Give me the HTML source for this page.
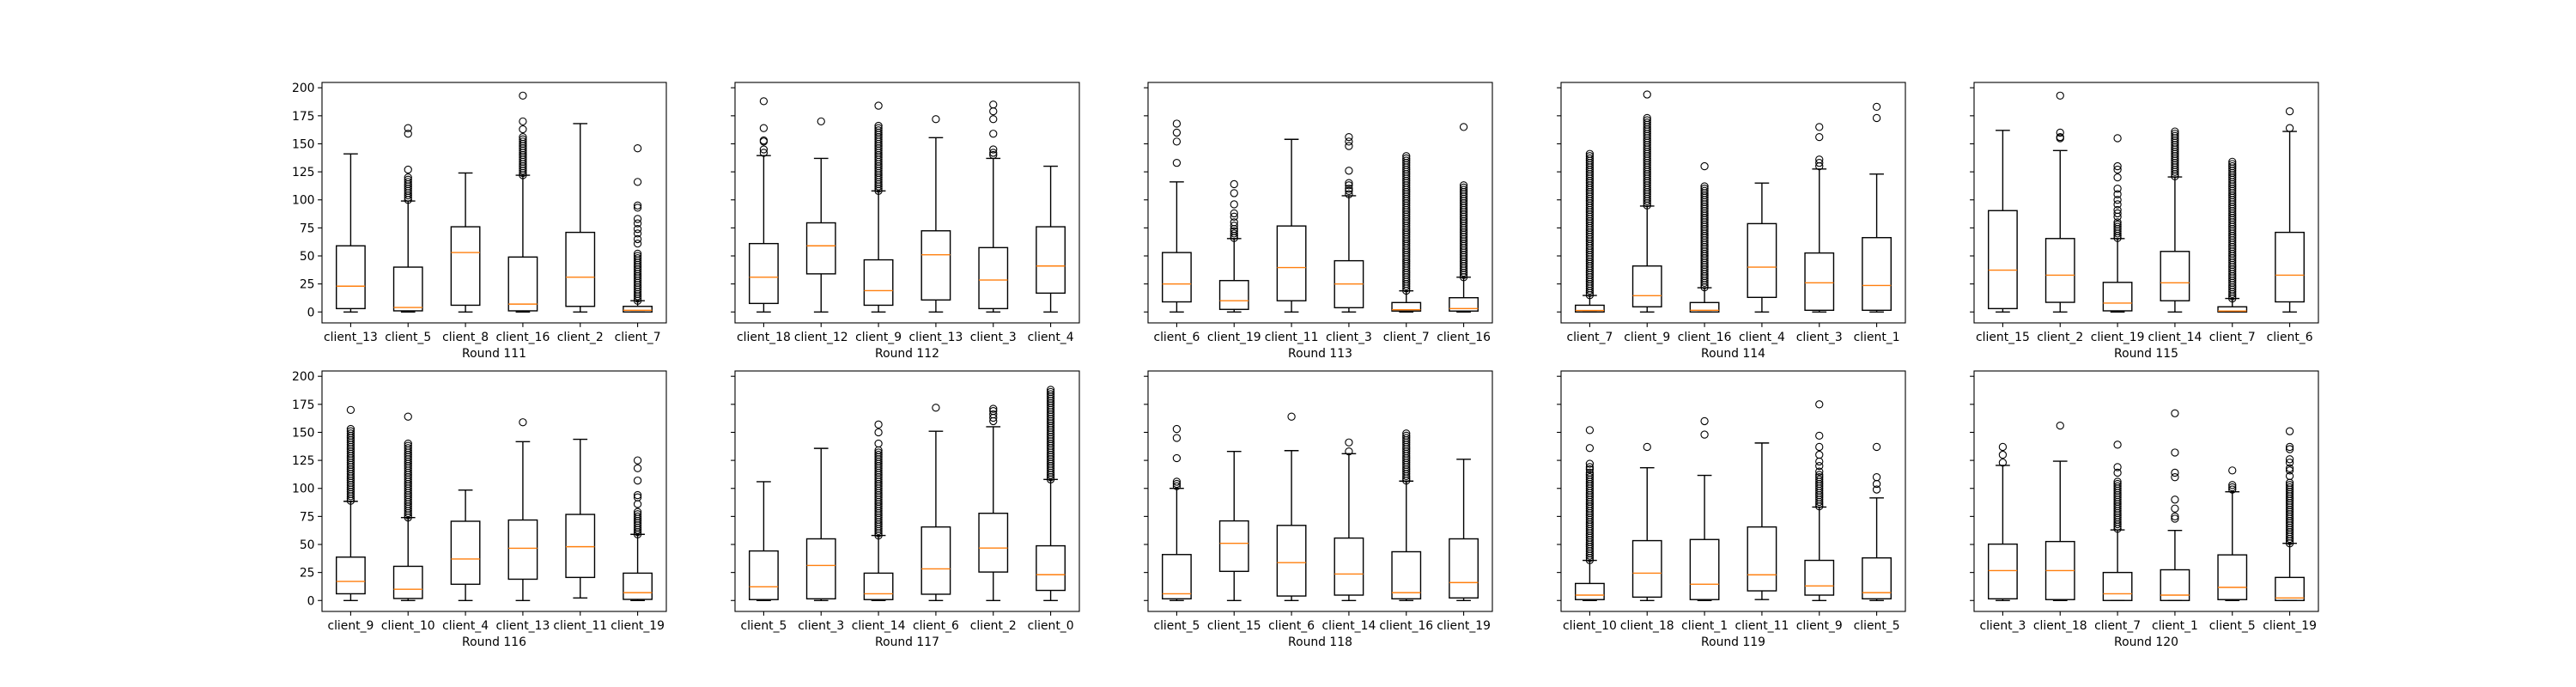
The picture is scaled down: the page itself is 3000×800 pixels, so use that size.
<!DOCTYPE html>
<html><head><meta charset="utf-8"><style>
html,body{margin:0;padding:0;background:#fff;}
svg{display:block;font-family:"DejaVu Sans","Liberation Sans",sans-serif;}
</style></head><body>
<svg id="chart" width="3000" height="800" viewBox="0 0 3000 800" xmlns="http://www.w3.org/2000/svg"></svg>
<script>
const rounds=[111,112,113,114,115,116,117,118,119,120];
const clients=[[13,5,8,16,2,7],[18,12,9,13,3,4],[6,19,11,3,7,16],[7,9,16,4,3,1],[15,2,19,14,7,6],[9,10,4,13,11,19],[5,3,14,6,2,0],[5,15,6,14,16,19],[10,18,1,11,9,5],[3,18,7,1,5,19]];
const whiskLo=[[0,0,0,0,0,0],[0,0,0,0,0,0],[0,0,0,0,0,0],[0,0,0,0,0,0],[0,0,0,0,0,0],[0,0,0,0,2.3,0],[0,0,0,0,0,0],[0,0,0,0,0,0],[0,0,0,0.8,0,0],[0,0,0,0,0,0]];
const q1s=[[3,1,6,1,5,0],[7.6,34,6,10.7,3,16.8],[9,2.3,10,3.8,0.8,0.8],[0,4.6,0,13,1.5,1.5],[3,8.6,1,10,0,9],[6,1.8,14.5,19,20.6,1],[0.8,1.5,0.8,5.6,25.4,9],[1.5,26,4,4.8,1.5,2.3],[0.8,3,0.8,8.6,4.8,1.5],[1.5,0.8,0,0,0.8,0]];
const medians=[[23,4,53,7,31,1.5],[31,59,19,51,28.5,41],[25,10,39.6,25,2,3],[1.3,14.5,1.5,40,26,23.6],[37.3,32.8,7.9,26,0.8,32.8],[17,10,37,46.6,48,7],[12.2,31.3,6,28.2,46.8,23],[6,51,33.8,23.6,7,16],[4.8,24.4,14.5,22.9,13,7],[26.7,26.7,6,4.8,11.7,2.3]];
const q3s=[[59,40,76,49,71,5],[61,79.5,46.5,72.4,57.4,76],[53,28,76.7,45.7,8.4,12.7],[6,41,8.4,78.8,52.6,66.3],[90.4,65.5,26.4,54,4.6,71],[38.7,30.5,70.7,71.8,76.8,24.4],[44.2,55,24.4,65.6,77.8,48.8],[41,71,67,55.7,43.5,55],[15.2,53.4,54.4,65.6,35.8,38],[50.3,52.6,25,27.4,40.7,20.6]];
const whiskHi=[[141,99,124,122,168,10],[139.5,137,108,155.5,137,130],[116,65.5,154,103.7,18.8,31],[14.7,94.5,21.6,115,127.5,123],[162,144,65.5,120.4,12,161],[88.5,74,98.5,141.7,143.8,59],[106,135.7,58,151,155,108],[100,133,133.7,131,106.5,126],[35.8,118.4,111.6,140.5,83.4,91.5],[120.5,124.3,63,62.5,97,51]];
const outliers=[
[[],[127,159,164],[],[163,170,193],[],[61,65,70,74,79,83,93,95,116,146]],
[[142,145,152,153,164,188],[170],[184],[172],[140,142,145,159,172,179,185],[]],
[[133,152,160,168],[66,68,70,72,74,77,80,85,88,96,106,114],[],[105,108,110,113,115,126,148,152,156],[],[165]],
[[],[194],[130],[],[130,133,136,156,165],[173,183]],
[[],[155,156,160,193],[85,88,91,96,100,105,110,120,127,130,155],[],[],[164,179]],
[[170],[164],[],[159],[],[86,92,94,107,118,125]],
[[],[],[140,150,157],[172],[160,163,166,169,171],[]],
[[102,104,106,127,145,153],[],[164],[133,141],[],[]],
[[114,117,119,122,136,152],[137],[148,160],[],[112,115,120,124,130,137,147,175],[99,104,110,137]],
[[123,130,137],[156],[114,119,139],[73,75,82,90,110,114,132,167],[99,101,103,116],[111,116,118,123,126,135,137,151]]];
const outlierBands=[
[[],[[100,120]],[],[[122,157]],[],[[10,53]]],
[[],[],[[108,166]],[],[],[]],
[[],[],[],[],[[19,139]],[[31,113]]],
[[[15,142]],[[95,174]],[[22,113]],[],[],[]],
[[],[],[[66,80]],[[121,161]],[[12,135]],[]],
[[[89,154]],[[74,141]],[],[],[],[[59,80]]],
[[],[],[[58,135]],[],[],[[108,189]]],
[[],[],[],[],[[107,149]],[]],
[[[36,112]],[],[],[],[[84,110]],[]],
[[],[],[[64,107]],[],[],[[51,105]]]];
const yTicks=[0,25,50,75,100,125,150,175,200];

const NS="http://www.w3.org/2000/svg";
const svg=document.getElementById('chart');
const lefts=[375,856,1337,1818,2299], tops=[96,432], W=401, H=280;
const YMIN=-9.75, YMAX=204.75;
function mk(tag,attrs,parent){const e=document.createElementNS(NS,tag);for(const k in attrs)e.setAttribute(k,attrs[k]);parent.appendChild(e);return e;}
for(let p=0;p<rounds.length;p++){
  const L=lefts[p%5], T=tops[Math.floor(p/5)];
  const yS=v=>T+H*(YMAX-v)/(YMAX-YMIN);
  const xS=i=>L+W*((i+1)-0.5)/6;
  const g=mk('g',{},svg);
  
  
  const n=clients[p].length, bw=W/6*0.5, cw=bw*0.5;
  for(let i=0;i<n;i++){
    const x=xS(i);
    const bg=mk('g',{},g);
    
    
    const st={stroke:'#000','stroke-width':1.4,fill:'none'};
    mk('line',Object.assign({x1:x,x2:x,y1:yS(whiskLo[p][i]),y2:yS(q1s[p][i])},st),bg);
    mk('line',Object.assign({x1:x,x2:x,y1:yS(q3s[p][i]),y2:yS(whiskHi[p][i])},st),bg);
    mk('line',Object.assign({x1:x-cw/2,x2:x+cw/2,y1:yS(whiskLo[p][i]),y2:yS(whiskLo[p][i])},st),bg);
    mk('line',Object.assign({x1:x-cw/2,x2:x+cw/2,y1:yS(whiskHi[p][i]),y2:yS(whiskHi[p][i])},st),bg);
    mk('rect',Object.assign({x:x-bw/2,y:yS(q3s[p][i]),width:bw,height:Math.max(0.5,yS(q1s[p][i])-yS(q3s[p][i]))},st),bg);
    mk('line',{x1:x-bw/2,x2:x+bw/2,y1:yS(medians[p][i]),y2:yS(medians[p][i]),stroke:'#ff7f0e','stroke-width':1.4},bg);
    const pts=outliers[p][i].slice();
    outlierBands[p][i].forEach(b=>{for(let v=b[0];v<=b[1];v+=2)pts.push(v);});
    pts.forEach(v=>{const c=mk('circle',{cx:x,cy:yS(v),r:4.1,fill:'none',stroke:'#000','stroke-width':1.1},bg);
      
      });
    mk('line',{x1:x,x2:x,y1:T+H,y2:T+H+4.9,stroke:'#000','stroke-width':1.1},g);
    const t=mk('text',{x:x,y:T+H+21,'text-anchor':'middle','font-size':13.9,fill:'#000'},g);
    t.textContent='client_'+clients[p][i];
    
    
  }
  yTicks.forEach(v=>{
    mk('line',{x1:L-4.9,x2:L,y1:yS(v),y2:yS(v),stroke:'#000','stroke-width':1.1},g);
    if(p%5===0){const t=mk('text',{x:L-8.5,y:yS(v)+5,'text-anchor':'end','font-size':13.9,fill:'#000'},g);
      t.textContent=String(v);
      
      }
  });
  const fr=mk('rect',{x:L,y:T,width:W,height:H,fill:'none',stroke:'#000','stroke-width':1.1},g);
  
  
  const xl=mk('text',{x:L+W/2,y:T+H+40,'text-anchor':'middle','font-size':13.9,fill:'#000'},g);
  xl.textContent='Round '+rounds[p];
  
  
}
</script>
</body></html>
